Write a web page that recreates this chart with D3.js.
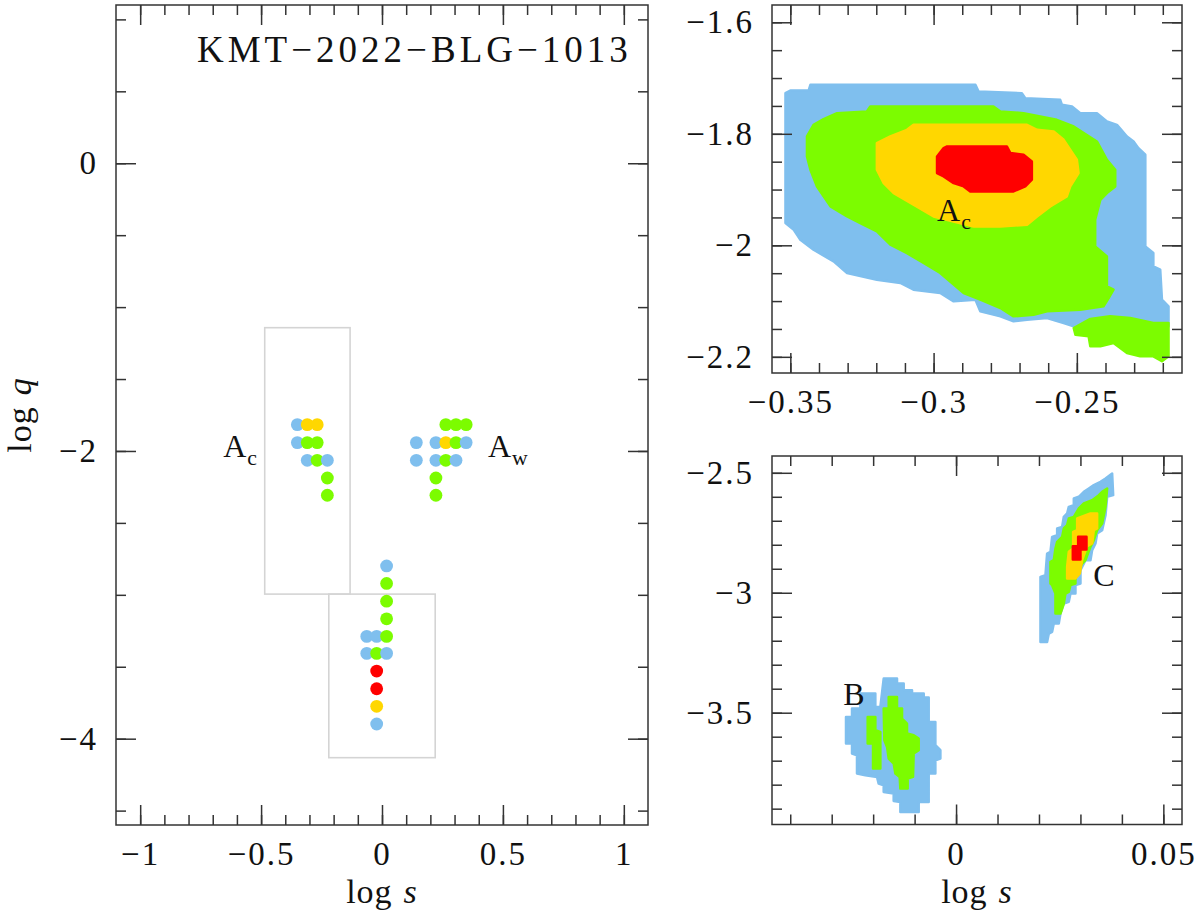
<!DOCTYPE html>
<html>
<head>
<meta charset="utf-8">
<script src="https://cdn.jsdelivr.net/npm/d3@7"></script>
<style>
  body { margin: 0; background: #fff; }
  svg text { font-family: "Liberation Serif", "DejaVu Serif", serif; fill: #111; }
</style>
</head>
<body>
<svg id="chart" width="1200" height="915"></svg>
<script>
// confidence levels, drawn from outer to inner
const levelColors = { b: '#7fbfee', g: '#7cfc00', y: '#ffd700', r: '#ff0000' };

// left panel: grid solutions [log s, log q, level]
const acDots = [
  [-0.350, -1.817, 'b'], [-0.309, -1.817, 'y'], [-0.268, -1.817, 'y'],
  [-0.350, -1.942, 'b'], [-0.309, -1.942, 'g'], [-0.268, -1.942, 'g'],
  [-0.309, -2.065, 'b'], [-0.268, -2.065, 'g'], [-0.226, -2.065, 'b'],
  [-0.226, -2.188, 'g'], [-0.226, -2.308, 'g']
];
const awDots = [
  [0.264, -1.817, 'g'], [0.306, -1.817, 'g'], [0.348, -1.817, 'g'],
  [0.142, -1.942, 'b'], [0.223, -1.942, 'b'], [0.264, -1.942, 'y'], [0.306, -1.942, 'g'], [0.348, -1.942, 'b'],
  [0.142, -2.065, 'b'], [0.223, -2.065, 'b'], [0.264, -2.065, 'g'], [0.306, -2.065, 'b'],
  [0.223, -2.188, 'g'], [0.223, -2.308, 'g']
];
const bcDots = [
  [0.019, -2.799, 'b'], [0.019, -2.921, 'g'], [0.019, -3.044, 'g'], [0.019, -3.167, 'g'],
  [-0.063, -3.289, 'b'], [-0.022, -3.289, 'b'], [0.019, -3.289, 'g'],
  [-0.063, -3.407, 'b'], [-0.022, -3.407, 'g'], [0.019, -3.407, 'b'],
  [-0.022, -3.530, 'r'], [-0.022, -3.653, 'r'], [-0.022, -3.775, 'y'], [-0.022, -3.898, 'b']
];
// zoom boxes in the left panel [s0, s1, q0, q1]
const zoomBoxes = [
  [-0.485, -0.132, -1.143, -2.995],
  [-0.220, 0.220, -2.995, -4.132]
];

// top-right panel (A_c local) region outlines [log s, log q]
const acBlue = [
  [-0.3517, -1.7271], [-0.3500, -1.7223], [-0.3436, -1.7223], [-0.3430, -1.7122], [-0.2854, -1.7122],
  [-0.2843, -1.7241], [-0.2692, -1.7271], [-0.2680, -1.7361], [-0.2558, -1.7391], [-0.2552, -1.7480],
  [-0.2517, -1.7510], [-0.2488, -1.7630], [-0.2430, -1.7630], [-0.2395, -1.7779], [-0.2360, -1.7839],
  [-0.2325, -1.8048], [-0.2302, -1.8137], [-0.2285, -1.8257], [-0.2261, -1.8376], [-0.2261, -1.9302],
  [-0.2261, -2.0019], [-0.2233, -2.0139], [-0.2233, -2.0378], [-0.2209, -2.0437], [-0.2203, -2.0975],
  [-0.2180, -2.1094], [-0.2180, -2.1453], [-0.2511, -2.1453], [-0.2546, -2.1393], [-0.2604, -2.1304],
  [-0.2674, -2.1333], [-0.2721, -2.1363], [-0.2767, -2.1274], [-0.2837, -2.1184], [-0.2854, -2.0975],
  [-0.2930, -2.1005], [-0.2977, -2.0856], [-0.3070, -2.0796], [-0.3116, -2.0676], [-0.3198, -2.0617],
  [-0.3302, -2.0497], [-0.3349, -2.0288], [-0.3419, -2.0079], [-0.3465, -1.9900], [-0.3488, -1.9720],
  [-0.3517, -1.9601]
];
const acGreen = [
  [-0.3442, -1.8048], [-0.3419, -1.7839], [-0.3384, -1.7737], [-0.3337, -1.7630], [-0.3233, -1.7600],
  [-0.3221, -1.7510], [-0.2791, -1.7510], [-0.2767, -1.7600], [-0.2686, -1.7630], [-0.2570, -1.7749],
  [-0.2511, -1.7869], [-0.2430, -1.8137], [-0.2395, -1.8466], [-0.2366, -1.8645], [-0.2366, -1.8944],
  [-0.2395, -1.9063], [-0.2418, -1.9183], [-0.2436, -1.9541], [-0.2436, -2.0019], [-0.2395, -2.0199],
  [-0.2395, -2.0736], [-0.2372, -2.0796], [-0.2389, -2.0945], [-0.2407, -2.1094], [-0.2488, -2.1154],
  [-0.2604, -2.1184], [-0.2651, -2.1244], [-0.2721, -2.1274], [-0.2767, -2.1124], [-0.2837, -2.0975],
  [-0.2895, -2.0856], [-0.2977, -2.0497], [-0.3035, -2.0318], [-0.3093, -2.0139], [-0.3151, -1.9989],
  [-0.3198, -1.9750], [-0.3256, -1.9601], [-0.3302, -1.9482], [-0.3360, -1.9302], [-0.3407, -1.8944],
  [-0.3430, -1.8645], [-0.3442, -1.8406]
];
const acGreenTail = [
  [-0.2511, -2.1483], [-0.2453, -2.1321], [-0.2384, -2.1274], [-0.2314, -2.1304], [-0.2233, -2.1393],
  [-0.2180, -2.1393], [-0.2180, -2.1991], [-0.2203, -2.2080], [-0.2233, -2.1991], [-0.2279, -2.1991],
  [-0.2325, -2.1931], [-0.2372, -2.1752], [-0.2418, -2.1811], [-0.2453, -2.1811], [-0.2459, -2.1632],
  [-0.2505, -2.1602]
];
const acYellow = [
  [-0.3198, -1.8167], [-0.3151, -1.8048], [-0.3093, -1.7928], [-0.3070, -1.7839], [-0.2674, -1.7839],
  [-0.2639, -1.7928], [-0.2581, -1.7958], [-0.2546, -1.8108], [-0.2500, -1.8466], [-0.2494, -1.8705],
  [-0.2523, -1.8944], [-0.2535, -1.9123], [-0.2593, -1.9302], [-0.2639, -1.9482], [-0.2674, -1.9631],
  [-0.2767, -1.9661], [-0.2860, -1.9661], [-0.3000, -1.9482], [-0.3070, -1.9272], [-0.3139, -1.9063],
  [-0.3174, -1.8884], [-0.3198, -1.8645]
];
const acRed = [
  [-0.2988, -1.8406], [-0.2965, -1.8257], [-0.2953, -1.8227], [-0.2744, -1.8227], [-0.2732, -1.8346],
  [-0.2686, -1.8376], [-0.2657, -1.8496], [-0.2657, -1.8824], [-0.2680, -1.8944], [-0.2721, -1.9033],
  [-0.2872, -1.9033], [-0.2895, -1.8944], [-0.2930, -1.8884], [-0.2965, -1.8765], [-0.2988, -1.8705]
];

// bottom-right panel (B and C local) region outlines [log s, log q]
const cBlue = [
  [0.03605, -2.5236], [0.03765, -2.5028], [0.03790, -2.5931], [0.03645, -2.6001], [0.03605, -2.6765],
  [0.03524, -2.7391], [0.03403, -2.7530], [0.03363, -2.7947], [0.03283, -2.8225], [0.03242, -2.8642],
  [0.03122, -2.8642], [0.03001, -2.9059], [0.03001, -2.9615], [0.02880, -2.9684], [0.02880, -3.0032],
  [0.02760, -3.0032], [0.02719, -3.0379], [0.02599, -3.0449], [0.02518, -3.0866], [0.02478, -3.1283],
  [0.02357, -3.1283], [0.02317, -3.1631], [0.02237, -3.1700], [0.02196, -3.2048], [0.02036, -3.2048],
  [0.02036, -2.9337], [0.02156, -2.9267], [0.02196, -2.8364], [0.02277, -2.8294], [0.02317, -2.7669],
  [0.02438, -2.7599], [0.02438, -2.7321], [0.02559, -2.7252], [0.02599, -2.6835], [0.02679, -2.6696],
  [0.02719, -2.6418], [0.02840, -2.6348], [0.02840, -2.6070], [0.02961, -2.6001], [0.03082, -2.5792],
  [0.03202, -2.5653], [0.03323, -2.5514], [0.03484, -2.5375]
];
const cGreen = [
  [0.03524, -2.5792], [0.03645, -2.5653], [0.03605, -2.6418], [0.03524, -2.7113], [0.03403, -2.7391],
  [0.03323, -2.7808], [0.03242, -2.8086], [0.03122, -2.8642], [0.03041, -2.8781], [0.02880, -2.9198],
  [0.02880, -2.9615], [0.02760, -2.9684], [0.02719, -2.9962], [0.02639, -3.0032], [0.02599, -3.0449],
  [0.02518, -3.0866], [0.02397, -3.0866], [0.02397, -3.0032], [0.02317, -2.9684], [0.02277, -2.9615],
  [0.02277, -2.8711], [0.02357, -2.8642], [0.02397, -2.8155], [0.02438, -2.7877], [0.02559, -2.7669],
  [0.02599, -2.7321], [0.02679, -2.7182], [0.02719, -2.6904], [0.02840, -2.6835], [0.02961, -2.6487],
  [0.03082, -2.6279], [0.03283, -2.6140], [0.03444, -2.5931]
];
const cYellow = [
  [0.02921, -2.6904], [0.03242, -2.6696], [0.03403, -2.6696], [0.03403, -2.7321], [0.03323, -2.7391],
  [0.03283, -2.7947], [0.03162, -2.8058], [0.03041, -2.8642], [0.02985, -2.9198], [0.02880, -2.9406],
  [0.02679, -2.9406], [0.02679, -2.8920], [0.02719, -2.8294], [0.02824, -2.8155], [0.02824, -2.7460],
  [0.02921, -2.7391]
];
const cRed = [
  [0.02945, -2.7669], [0.03146, -2.7669], [0.03146, -2.8197], [0.03001, -2.8197], [0.03001, -2.8614],
  [0.02816, -2.8614], [0.02816, -2.8058], [0.02945, -2.8058]
];
const bBlue = [
  [-0.02655, -3.5175], [-0.02510, -3.5175], [-0.02510, -3.4828], [-0.02309, -3.4828], [-0.02309, -3.4202],
  [-0.01947, -3.4202], [-0.01947, -3.4758], [-0.01826, -3.4758], [-0.01746, -3.3577], [-0.01424, -3.3577],
  [-0.01424, -3.3785], [-0.01263, -3.3785], [-0.01263, -3.4063], [-0.01062, -3.4063], [-0.01062, -3.4202],
  [-0.00780, -3.4202], [-0.00780, -3.4369], [-0.00660, -3.4369], [-0.00660, -3.5384], [-0.00499, -3.5384],
  [-0.00499, -3.6357], [-0.00378, -3.6565], [-0.00378, -3.6913], [-0.00499, -3.6982], [-0.00499, -3.7538],
  [-0.00660, -3.7538], [-0.00660, -3.8720], [-0.00901, -3.8720], [-0.00901, -3.9137], [-0.01344, -3.9137],
  [-0.01344, -3.8720], [-0.01505, -3.8678], [-0.01505, -3.8372], [-0.01746, -3.8303], [-0.01746, -3.8025],
  [-0.01867, -3.7955], [-0.01907, -3.7677], [-0.02188, -3.7608], [-0.02390, -3.7538], [-0.02390, -3.6774],
  [-0.02510, -3.6704], [-0.02510, -3.6287], [-0.02655, -3.6287]
];
const bGreenLeft = [
  [-0.02132, -3.5175], [-0.01947, -3.5175], [-0.01947, -3.5731], [-0.01826, -3.5801], [-0.01826, -3.7330],
  [-0.02003, -3.7330], [-0.02003, -3.6287], [-0.02132, -3.6287]
];
const bGreenRight = [
  [-0.01625, -3.4341], [-0.01424, -3.4341], [-0.01424, -3.4828], [-0.01303, -3.4828], [-0.01303, -3.5245],
  [-0.01183, -3.5453], [-0.01183, -3.5870], [-0.01022, -3.5940], [-0.00901, -3.6079], [-0.00901, -3.6565],
  [-0.01022, -3.6704], [-0.01038, -3.7677], [-0.01167, -3.7747], [-0.01167, -3.8164], [-0.01344, -3.8164],
  [-0.01360, -3.7677], [-0.01464, -3.7538], [-0.01505, -3.7121], [-0.01625, -3.6913], [-0.01665, -3.6426],
  [-0.01730, -3.6148], [-0.01746, -3.4828], [-0.01625, -3.4828]
];

// ticks
const tenths = (a, b, d) => d3.range(a, b + 1).map(i => i / d);
const leftXMajor = [-1, -0.5, 0, 0.5, 1];
const leftXMinor = tenths(-10, 10, 10);
const leftYMajor = [-4, -2, 0];
const leftYMinor = tenths(-9, 2, 2);
const trXMajor = [-0.35, -0.3, -0.25];
const trXMinor = tenths(-35, -22, 100);
const trYMajor = [-2.2, -2, -1.8, -1.6];
const trYMinor = tenths(-44, -32, 20);
const brXMajor = [0, 0.05];
const brXMinor = tenths(-4, 5, 100);
const brYMajor = [-3.5, -3, -2.5];
const brYMinor = tenths(-39, -25, 10);

const svg = d3.select('#chart');
const fmt = v => (v < 0 ? '\u2212' : '') + String(+Math.abs(v).toFixed(3));
const ink = '#333';
const tickFont = 33;

function makePanel(id, left, top, width, height, xDomain, yDomain) {
  const g = svg.append('g').attr('transform', `translate(${left},${top})`);
  const x = d3.scaleLinear().domain(xDomain).range([0, width]);
  const y = d3.scaleLinear().domain(yDomain).range([height, 0]);
  g.append('clipPath').attr('id', id).append('rect').attr('width', width).attr('height', height);
  const content = g.append('g').attr('clip-path', `url(#${id})`);
  return { g, x, y, width, height, content };
}

function drawAxes(p, xMajor, xMinor, yMajor, yMinor) {
  const { g, x, y, width, height } = p;
  const style = sel => {
    sel.select('.domain').remove();
    sel.style('color', ink).attr('font-size', tickFont).attr('font-family', null);
    sel.selectAll('line').attr('stroke-width', 1.5);
    sel.selectAll('text').style('fill', '#111').attr('letter-spacing', 2);
  };
  const sides = [
    [d3.axisBottom, `translate(0,${height})`, x, xMajor, xMinor, true],
    [d3.axisTop, 'translate(0,0)', x, xMajor, xMinor, false],
    [d3.axisLeft, 'translate(0,0)', y, yMajor, yMinor, true],
    [d3.axisRight, `translate(${width},0)`, y, yMajor, yMinor, false]
  ];
  sides.forEach(([axisFn, tr, sc, major, minor, labelled]) => {
    g.append('g').attr('transform', tr)
      .call(axisFn(sc).tickValues(minor).tickSize(-10).tickFormat(''))
      .call(style);
    g.append('g').attr('transform', tr)
      .call(axisFn(sc).tickValues(major).tickSize(-20)
        .tickPadding(axisFn === d3.axisBottom ? 17 : 18)
        .tickFormat(labelled ? fmt : ''))
      .call(style);
  });
  g.append('rect')
    .attr('width', width).attr('height', height)
    .attr('fill', 'none').attr('stroke', ink).attr('stroke-width', 1.5);
}

function drawRegion(p, pts, level) {
  const line = d3.line().x(d => p.x(d[0])).y(d => p.y(d[1]));
  p.content.append('path')
    .attr('d', line(pts) + 'Z')
    .attr('fill', levelColors[level])
    .attr('stroke', levelColors[level])
    .attr('stroke-width', 2.5)
    .attr('stroke-linejoin', 'round');
}

function label(g, px, py, main, sub, size) {
  const t = g.append('text').attr('x', px).attr('y', py).attr('font-size', size);
  t.append('tspan').text(main);
  if (sub) t.append('tspan').attr('font-size', size * 0.68).attr('dy', 8).attr('dx', 1).text(sub);
}

// ---- left panel ----
const L = makePanel('clipL', 116, 5, 532, 820, [-1.1, 1.1], [-4.6, 1.1]);

L.content.selectAll('rect.box')
  .data(zoomBoxes)
  .enter().append('rect')
  .attr('class', 'box')
  .attr('x', d => L.x(d[0]))
  .attr('y', d => L.y(d[2]))
  .attr('width', d => L.x(d[1]) - L.x(d[0]))
  .attr('height', d => L.y(d[3]) - L.y(d[2]))
  .attr('fill', 'none')
  .attr('stroke', '#d4d4d4')
  .attr('stroke-width', 1.6);

L.content.selectAll('circle.dot')
  .data(acDots.concat(awDots, bcDots))
  .enter().append('circle')
  .attr('class', 'dot')
  .attr('cx', d => L.x(d[0]))
  .attr('cy', d => L.y(d[1]))
  .attr('r', 6.4)
  .attr('fill', d => levelColors[d[2]]);

drawAxes(L, leftXMajor, leftXMinor, leftYMajor, leftYMinor);

label(L.g, L.x(-0.657), L.y(-2.042), 'A', 'c', 32);
label(L.g, L.x(0.438), L.y(-2.042), 'A', 'w', 32);

L.g.append('text')
  .attr('x', 81).attr('y', 57)
  .attr('font-size', 37)
  .attr('letter-spacing', 4)
  .text('KMT\u22122022\u2212BLG\u22121013');

// ---- top-right panel ----
const TR = makePanel('clipTR', 772, 5, 410, 368, [-0.3564, -0.2133], [-2.229, -1.569]);
drawRegion(TR, acBlue, 'b');
drawRegion(TR, acGreen, 'g');
drawRegion(TR, acGreenTail, 'g');
drawRegion(TR, acYellow, 'y');
drawRegion(TR, acRed, 'r');
drawAxes(TR, trXMajor, trXMinor, trYMajor, trYMinor);
label(TR.g, TR.x(-0.2988), TR.y(-1.957), 'A', 'c', 32);

// ---- bottom-right panel ----
const BR = makePanel('clipBR', 772, 456, 410, 368.5, [-0.0444, 0.0545], [-3.966, -2.430]);
drawRegion(BR, cBlue, 'b');
drawRegion(BR, cGreen, 'g');
drawRegion(BR, cYellow, 'y');
drawRegion(BR, cRed, 'r');
drawRegion(BR, bBlue, 'b');
drawRegion(BR, bGreenLeft, 'g');
drawRegion(BR, bGreenRight, 'g');
drawAxes(BR, brXMajor, brXMinor, brYMajor, brYMinor);
label(BR.g, BR.x(0.0331), BR.y(-2.972), 'C', null, 32);
label(BR.g, BR.x(-0.0272), BR.y(-3.466), 'B', null, 32);

// ---- axis titles ----
function axisTitle(px, py, letter, rotate) {
  const t = svg.append('text')
    .attr('transform', `translate(${px},${py})` + (rotate ? ' rotate(-90)' : ''))
    .attr('text-anchor', 'middle')
    .attr('font-size', 34)
    .attr('letter-spacing', 1);
  t.append('tspan').text('log');
  t.append('tspan').attr('dx', 11).attr('font-style', 'italic').text(letter);
}
axisTitle(382, 903, 's', false);
axisTitle(977, 903, 's', false);
axisTitle(31, 415, 'q', true);
</script>
</body>
</html>
